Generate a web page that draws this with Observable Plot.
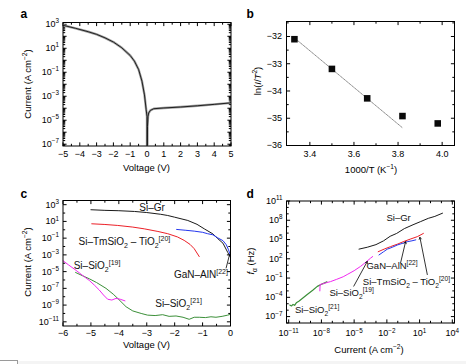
<!DOCTYPE html>
<html><head><meta charset="utf-8">
<script src="https://cdn.jsdelivr.net/npm/d3@7"></script>
<script src="https://cdn.jsdelivr.net/npm/@observablehq/plot@0.6"></script>
<style>
body{margin:0;background:#fff;}
#fig{position:relative;width:466px;height:364px;overflow:hidden;}
#corner{position:absolute;left:0;top:360px;width:17px;height:10px;border-top:1px solid #9a9a9a;border-right:1px solid #9a9a9a;}
#strip{position:absolute;left:18px;top:361px;width:448px;height:3px;background:#f4f4f4;}
</style></head><body><div id="fig"><div id="corner"></div><div id="strip"></div></div>
<script>
// ================= DATA =================
// Panel a: J–V curve
const aVoltage = [-5,-4.25,-3.5,-3,-2.5,-2,-1.5,-1,-0.75,-0.5,-0.3,-0.15,-0.05,0,0,0.02,0.03,0.06,0.1,0.2,0.4,1,2,3,4,5];
const aCurrent = [830,460,240,145,74,33,11,2.5,0.85,0.17,0.018,1.3e-3,7.6e-5,2e-5,1e-9,1e-9,3e-6,2e-5,4e-5,6.6e-5,9.1e-5,1.05e-4,1.26e-4,1.6e-4,2.1e-4,2.8e-4];
const aXTicks = [-5,-4,-3,-2,-1,0,1,2,3,4,5];
const aYTickLabels = [1e-7,1e-5,1e-3,1e-1,1e1,1e3];

// Panel b: Richardson plot
const bInvT = [3.33,3.50,3.66,3.82,3.98];
const bLnIT2 = [-32.1,-33.19,-34.27,-34.92,-35.19];
const bFitInvT = [3.34,3.82];
const bFitLn = [-32.12,-35.35];
const bXTicks = [3.4,3.6,3.8,4.0];
const bYTicks = [-36,-35,-34,-33,-32];

// Panel c: J–V comparison
const cGrV = [-5,-4.5,-4,-3.44,-3,-2.5,-2.25,-2,-1.53,-1.2,-0.94,-0.63,-0.46,-0.27,-0.1,0];
const cGrJ = [250,210,190,155,115,71,51,32,13,4.5,1.3,0.32,0.09,0.025,2e-3,5e-4];
const cTmV = [-4.97,-4.5,-4.04,-3.5,-3.09,-2.6,-2.25,-1.9,-1.66,-1.45,-1.3,-1.12];
const cTmJ = [5.2,4.3,3.3,2.1,1.3,0.63,0.34,0.14,0.054,0.018,5.5e-3,6.3e-4];
const cGaNV = [-1.93,-1.6,-1.3,-1.0,-0.82,-0.63,-0.46,-0.27,-0.15,-0.07,0];
const cGaNJ = [1.1,0.87,0.69,0.5,0.34,0.25,0.11,0.05,0.016,4e-3,8e-4];
const cS19V = [-6,-5.8,-5.53,-5.24,-5.06,-4.88,-4.7,-4.55,-4.4,-4.25,-4.1,-3.95,-3.78];
const cS19J = [2e-4,6.3e-5,1.4e-5,2.5e-6,8.9e-7,2.5e-7,6.3e-8,1.6e-8,5e-9,4e-9,6.3e-9,5e-9,3.2e-9];
const cS21V = [-5.55,-5.3,-5.06,-4.8,-4.46,-4.2,-4.04,-3.74,-3.5,-3.2,-2.97,-2.7,-2.43,-2.2,-1.95,-1.7,-1.48,-1.3,-1.12,-0.9,-0.7,-0.52,-0.3,-0.1,0];
const cS21J = [7.9e-6,3.2e-6,1.4e-6,5e-7,1e-7,2e-8,6.3e-9,6.3e-10,2e-10,1e-10,6.3e-11,5.6e-11,7.1e-11,4.5e-11,5e-11,3.5e-11,2e-11,3.5e-11,3.5e-11,3.2e-11,4e-11,3.5e-11,4.5e-11,6.3e-11,7.9e-11];
const cLabelText = ["Si–Gr","Si–TmSiO_{2} – TiO_{2}^{[20]}","Si–SiO_{2}^{[19]}","GaN–AlN^{[22]}","Si–SiO_{2}^{[21]}"];
const cLabelV = [-2.81,-3.8,-4.78,-1.06,-1.86];
const cLabelJ = [400,0.032,5e-5,3.8e-6,1.4e-9];
const cLinkV1 = [-0.16], cLinkJ1 = [2.5e-5], cLinkV2 = [-0.03], cLinkJ2 = [1.2e-3];
const cXTicks = [-6,-5,-4,-3,-2,-1,0];
const cYTickLabels = [1e-11,1e-9,1e-7,1e-5,1e-3,1e-1,1e1,1e3];

// Panel d: cutoff frequency vs current
const dGrI = [2.8e-5,1.6e-4,1e-3,5e-3,0.02,0.079,0.4,2.5,12.6,63,250,1260];
const dGrF = [3.2e3,6.3e3,1.6e4,6.3e4,3.2e5,8.9e5,5e6,2e7,6.3e7,2e8,4e8,1.26e9];
const dTmI = [1.6e-3,6.3e-3,0.022,0.1,0.36,1.6,6.2,22.4];
const dTmF = [1.26e3,3.5e3,7.9e3,2e4,5e4,1.26e5,2.8e5,8.9e5];
const dGaNI = [1.9e-3,5e-3,0.011,0.032,0.091,0.32,0.74,2,4.5];
const dGaNF = [4e2,1.26e3,3.2e3,6.3e3,1.4e4,2.8e4,4.6e4,6.3e4,8.9e4];
const dS19I = [7.2e-9,7.6e-9,1.26e-8,3.2e-8,6.9e-8,2.5e-7,1e-6,2.3e-6,1e-5,3.9e-5,1.26e-4,3.2e-4,5e-4];
const dS19F = [1e-3,1e-2,1.26e-2,2e-2,2.8e-2,6.3e-2,0.16,0.35,1.4,6.6,32,126,224];
const dS21I = [1.26e-11,1.8e-11,2.5e-11,3.5e-11,5e-11,8.5e-11,2e-10,5e-10,1.6e-9,4.2e-9,1.26e-8,3.2e-8];
const dS21F = [6.3e-6,4.5e-6,7.9e-6,5.6e-6,1.4e-5,2.5e-5,7.9e-5,2.8e-4,1.26e-3,5e-3,1.26e-2,2.5e-2];
const dLabelText = ["Si–Gr","GaN–AlN^{[22]}","Si–TmSiO_{2} – TiO_{2}^{[20]}","Si–SiO_{2}^{[19]}","Si–SiO_{2}^{[21]}"];
const dLabelI = [0.12,0.03,0.62,5.8e-6,4e-9];
const dLabelF = [2.2e8,6.6,0.026,4.2e-4,1e-6];
const dArrowI1 = [9.3e-6,0.18,51], dArrowF1 = [5.5e-3,22,0.35];
const dArrowI2 = [1.6e-4,0.52,10.7], dArrowF2 = [38,4.6e4,2.2e5];
const dXTickLabels = [1e-11,1e-8,1e-5,1e-2,1e1,1e4];
const dYTickLabels = [1e-7,1e-4,1e-1,1e2,1e5,1e8,1e11];

// ================= HELPERS =================
const FONT = '"Liberation Sans", Arial, Helvetica, sans-serif';
const zip = (a, b) => a.map((v, i) => [v, b[i]]);
const minus = s => String(s).replace("-", "−");
const fmtPow = d => "10^{" + minus(Math.round(Math.log10(d))) + "}";
const inDom = (lo, hi) => v => v >= lo * 0.9999 && v <= hi * 1.0001;
const decades = (a, b) => d3.range(a, b + 1).map(e => Math.pow(10, e));
const logMinors = (a, b) => d3.range(a, b + 1).flatMap(e => d3.range(2, 10).map(k => k * Math.pow(10, e)));

// inward frame ticks drawn as vectors anchored on the frame edges
const tickShape = {draw(ctx, l) { ctx.moveTo(0, 0); ctx.lineTo(0, -l); }};
function frameTicks(x, xMinor, y, yMinor) {
  const o = {shape: tickShape, anchor: "start", stroke: "black", strokeWidth: 1, strokeLinecap: "butt"};
  const out = [];
  for (const [arr, len] of [[x, 3.6], [xMinor, 2.2]]) {
    if (!arr.length) continue;
    out.push(Plot.vector(arr, {...o, x: d => d, frameAnchor: "bottom", length: len, rotate: 0}));
    out.push(Plot.vector(arr, {...o, x: d => d, frameAnchor: "top", length: len, rotate: 180}));
  }
  for (const [arr, len] of [[y, 3.6], [yMinor, 2.2]]) {
    if (!arr.length) continue;
    out.push(Plot.vector(arr, {...o, y: d => d, frameAnchor: "left", length: len, rotate: 90}));
    out.push(Plot.vector(arr, {...o, y: d => d, frameAnchor: "right", length: len, rotate: -90}));
  }
  return out;
}
const baseStyle = {fontFamily: FONT, fontSize: "9px", color: "black", background: "none", overflow: "visible"};

const fig = document.getElementById("fig");
function place(svg, left, top) {
  svg.style.position = "absolute";
  svg.style.left = left + "px";
  svg.style.top = top + "px";
  fig.appendChild(svg);
}

// ================= PANEL a =================
{
  const yDom = [Math.pow(10, -7.15), Math.pow(10, 3.15)];
  const yMaj = decades(-7, 3), yMin = logMinors(-8, 3).filter(inDom(...yDom));
  const xMin = d3.range(-4.5, 5, 1);
  place(Plot.plot({
    width: 233, height: 180, marginLeft: 62.5, marginRight: 2.5, marginTop: 22, marginBottom: 34.5,
    x: {domain: [-5, 5]}, y: {type: "log", domain: yDom},
    style: baseStyle,
    marks: [
      Plot.axisX(aXTicks, {anchor: "bottom", tickSize: 0, tickPadding: 4.5, tickFormat: minus, label: null}),
      Plot.axisY(aYTickLabels, {anchor: "left", tickSize: 0, tickPadding: 4, tickFormat: fmtPow, label: null}),
      ...frameTicks(aXTicks, xMin, yMaj, yMin),
      Plot.line(zip(aVoltage, aCurrent), {stroke: "#a0a0a0", strokeWidth: 2.4, clip: true}),
      Plot.line(zip(aVoltage, aCurrent), {stroke: "#111", strokeWidth: 0.9, clip: true}),
      Plot.frame({stroke: "black", strokeWidth: 1})
    ]
  }), 0, 0);
}

// ================= PANEL b =================
{
  place(Plot.plot({
    width: 233, height: 180, marginLeft: 53, marginRight: 12, marginTop: 21, marginBottom: 35,
    x: {domain: [3.294, 4.056]}, y: {domain: [-36, -31.45]},
    style: baseStyle,
    marks: [
      Plot.axisX(bXTicks, {anchor: "bottom", tickSize: 0, tickPadding: 5.5, tickFormat: d => d.toFixed(1), label: null}),
      Plot.axisY(bYTicks, {anchor: "left", tickSize: 0, tickPadding: 4.5, tickFormat: minus, label: null}),
      ...frameTicks(bXTicks, [3.5, 3.7, 3.9], bYTicks, [-35.5, -34.5, -33.5, -32.5, -31.5]),
      Plot.line(zip(bFitInvT, bFitLn), {stroke: "#8a8a8a", strokeWidth: 1, strokeDasharray: "1,1"}),
      Plot.dot(zip(bInvT, bLnIT2), {symbol: "square", r: 3.7, fill: "#0a0a0a", stroke: "none"}),
      Plot.frame({stroke: "black", strokeWidth: 1})
    ]
  }), 233, 0);
}

// ================= PANEL c =================
{
  const yDom = [Math.pow(10, -11.5), Math.pow(10, 3.5)];
  const yMin = decades(-11, 3).filter(v => !cYTickLabels.includes(v));
  const cLabels = cLabelText.map((t, i) => ({t, x: cLabelV[i], y: cLabelJ[i]}));
  const cLinks = cLinkV1.map((v, i) => ({x1: v, y1: cLinkJ1[i], x2: cLinkV2[i], y2: cLinkJ2[i]}));
  place(Plot.plot({
    width: 233, height: 184, marginLeft: 62.5, marginRight: 3, marginTop: 20, marginBottom: 38.5,
    x: {domain: [-6, 0]}, y: {type: "log", domain: yDom},
    style: baseStyle,
    marks: [
      Plot.axisX(cXTicks, {anchor: "bottom", tickSize: 0, tickPadding: 3.5, tickFormat: minus, label: null}),
      Plot.axisY(cYTickLabels, {anchor: "left", tickSize: 0, tickPadding: 4, tickFormat: fmtPow, label: null}),
      ...frameTicks(cXTicks, d3.range(-5.5, 0, 1), cYTickLabels, yMin),
      Plot.line(zip(cGrV, cGrJ), {stroke: "#1a1a1a", strokeWidth: 1, clip: true}),
      Plot.line(zip(cTmV, cTmJ), {stroke: "#ec2028", strokeWidth: 1, clip: true}),
      Plot.line(zip(cGaNV, cGaNJ), {stroke: "#2436ee", strokeWidth: 1, clip: true}),
      Plot.line(zip(cS21V, cS21J), {stroke: "#3b8f38", strokeWidth: 1, clip: true}),
      Plot.line(zip(cS19V, cS19J), {stroke: "#f028f0", strokeWidth: 1, clip: true}),
      Plot.link(cLinks, {x1: "x1", y1: "y1", x2: "x2", y2: "y2", stroke: "black", strokeWidth: 0.8}),
      Plot.text(cLabels, {x: "x", y: "y", text: "t", fontSize: 10, textAnchor: "middle", fill: "#111"}),
      Plot.frame({stroke: "black", strokeWidth: 1})
    ]
  }), 0, 180);
}

// ================= PANEL d =================
{
  const xDom = [Math.pow(10, -11.2), Math.pow(10, 4.2)];
  const yDom = [1e-8, 1e11];
  const xMin = decades(-11, 4).filter(v => !dXTickLabels.includes(v));
  const yMin = decades(-8, 11).filter(v => !dYTickLabels.includes(v));
  const dLabels = dLabelText.map((t, i) => ({t, x: dLabelI[i], y: dLabelF[i]}));
  const dArrows = dArrowI1.map((v, i) => ({x1: v, y1: dArrowF1[i], x2: dArrowI2[i], y2: dArrowF2[i]}));
  place(Plot.plot({
    width: 233, height: 184, marginLeft: 53, marginRight: 12, marginTop: 20.5, marginBottom: 41.5,
    x: {type: "log", domain: xDom}, y: {type: "log", domain: yDom},
    style: baseStyle,
    marks: [
      Plot.axisX(dXTickLabels, {anchor: "bottom", tickSize: 0, tickPadding: 7, tickFormat: fmtPow, label: null}),
      Plot.axisY(dYTickLabels, {anchor: "left", tickSize: 0, tickPadding: 4, tickFormat: fmtPow, label: null}),
      ...frameTicks(dXTickLabels, xMin, dYTickLabels, yMin),
      Plot.line(zip(dGrI, dGrF), {stroke: "#1a1a1a", strokeWidth: 1, clip: true}),
      Plot.line(zip(dTmI, dTmF), {stroke: "#ec2028", strokeWidth: 1, clip: true}),
      Plot.line(zip(dGaNI, dGaNF), {stroke: "#2436ee", strokeWidth: 1, clip: true}),
      Plot.line(zip(dS21I, dS21F), {stroke: "#3b8f38", strokeWidth: 1.2, clip: true}),
      Plot.line(zip(dS19I, dS19F), {stroke: "#f028f0", strokeWidth: 1, clip: true}),
      Plot.arrow(dArrows, {x1: "x1", y1: "y1", x2: "x2", y2: "y2", stroke: "black", strokeWidth: 0.8, headLength: 4}),
      Plot.text(dLabels, {x: "x", y: "y", text: "t", fontSize: 9.5, textAnchor: "middle", fill: "#111"}),
      Plot.frame({stroke: "black", strokeWidth: 1})
    ]
  }), 233, 180);
}

// ================= OVERLAY: panel letters and axis titles =================
{
  const ov = d3.select(fig).append("svg").attr("width", 466).attr("height", 364)
    .style("position", "absolute").style("left", "0px").style("top", "0px")
    .style("font-family", FONT).style("pointer-events", "none");
  [["a", 20.5, 18.3], ["b", 246.5, 18.3], ["c", 20.5, 198.3], ["d", 246.5, 198.3]].forEach(([t, x, y]) =>
    ov.append("text").attr("x", x).attr("y", y).attr("font-size", 12).attr("font-weight", "bold").text(t));
  const fs = 9.5;
  [["Current (A cm^{−2})", 27.5, 84, -90],
   ["Voltage (V)", 146.5, 167.5, 0],
   ["ln(*I*/*T*^{2})", 257.5, 81, -90],
   ["1000/T (K^{−1})", 371, 170, 0],
   ["Current (A cm^{−2})", 27.5, 262, -90],
   ["Voltage (V)", 146.5, 345, 0],
   ["*f*_{α} (Hz)", 251, 261, -90],
   ["Current (A cm^{−2})", 369, 350, 0]].forEach(([t, x, y, r]) =>
    ov.append("text").attr("transform", `translate(${x},${y}) rotate(${r}) translate(0,${0.35 * fs})`)
      .attr("text-anchor", "middle").attr("font-size", fs).text(t));
}

// ================= RICH TEXT (super/subscripts, italics) =================
const SVGNS = "http://www.w3.org/2000/svg";
function rich(el) {
  const s = el.textContent;
  if (!/[\^_*]/.test(s)) return;
  const fs = parseFloat(getComputedStyle(el).fontSize) || 10;
  const tokens = [];
  let i = 0, italic = false, buf = "";
  const push = (text, mode) => { if (text) tokens.push({text, mode, italic}); };
  while (i < s.length) {
    const c = s[i];
    if ((c === "^" || c === "_") && s[i + 1] === "{") {
      push(buf, "n"); buf = "";
      const j = s.indexOf("}", i + 2);
      push(s.slice(i + 2, j), c === "^" ? "sup" : "sub");
      i = j + 1;
    } else if (c === "*") { push(buf, "n"); buf = ""; italic = !italic; i++; }
    else { buf += c; i++; }
  }
  push(buf, "n");
  while (el.firstChild) el.removeChild(el.firstChild);
  let cur = 0;
  for (const t of tokens) {
    const ts = document.createElementNS(SVGNS, "tspan");
    const off = t.mode === "sup" ? -0.42 * fs : t.mode === "sub" ? 0.28 * fs : 0;
    if (off !== cur) ts.setAttribute("dy", (off - cur).toFixed(2));
    cur = off;
    if (t.mode !== "n") ts.setAttribute("font-size", (0.7 * fs).toFixed(2));
    if (t.italic) ts.setAttribute("font-style", "italic");
    ts.textContent = t.text;
    el.appendChild(ts);
  }
}
fig.querySelectorAll("text").forEach(rich);
</script></body></html>
